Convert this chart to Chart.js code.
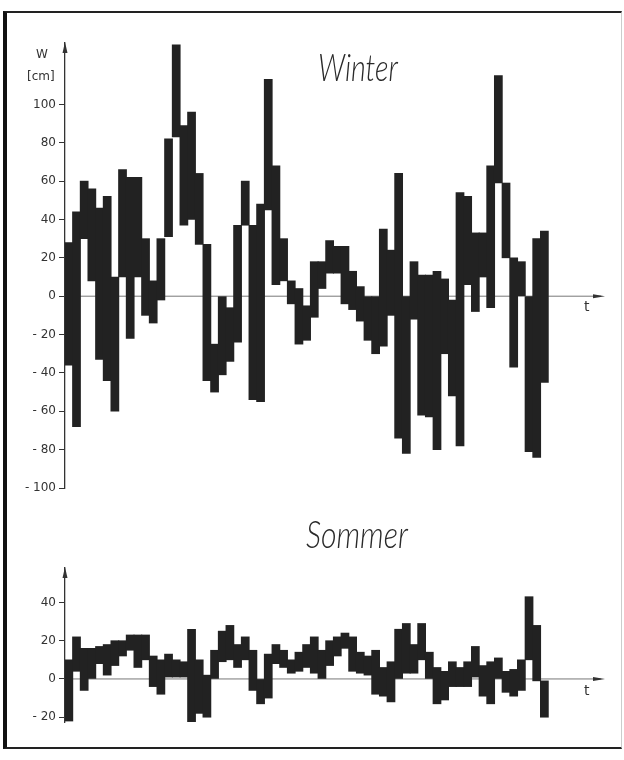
<!DOCTYPE html>
<html lang="de">
<head>
<meta charset="UTF-8">
<title>Winter / Sommer</title>
<script src="https://cdn.jsdelivr.net/npm/chart.js"></script>
<style>
  body { margin: 0; background: #fff; }
  #page { position: relative; width: 624px; height: 760px; overflow: hidden; }
  #frame { position: absolute; left: 3px; top: 11px; width: 614px; height: 734px;
           border-left: 4px solid #111; border-top: 2px solid #222; border-bottom: 2px solid #222;
           border-right: 1px solid #ccc; }
  .lbl { position: absolute; color: #333; font-family: "DejaVu Sans", sans-serif; font-size: 12px; line-height: 1; white-space: nowrap; }
  .title { position: absolute; color: #2a2a2a; font-family: Lato, "Liberation Sans", sans-serif;
           font-style: italic; font-weight: 300; font-size: 38px; line-height: 1; white-space: nowrap;
           transform-origin: 0 0; }
  canvas { position: absolute; left: 0; }
</style>
</head>
<body>
<div id="page">
  <div id="frame"></div>
  <div style="position:absolute;left:0;top:0;width:624px;height:500px"><canvas id="winterChart"></canvas></div>
  <div style="position:absolute;left:0;top:500px;width:624px;height:260px"><canvas id="sommerChart"></canvas></div>
  <div class="title" id="tWinter" data-w="80" style="left:318px;top:47px">Winter</div>
  <div class="title" id="tSommer" data-w="102" style="left:306px;top:514px">Sommer</div>
  <div class="lbl" style="left:36px;top:48px">W</div>
  <div class="lbl" style="left:27px;top:70px">[cm]</div>
  <div class="lbl" style="left:584px;top:299px;font-size:14px">t</div>
  <div class="lbl" style="left:584px;top:683px;font-size:14px">t</div>
</div>

<script>
// time steps (one bar per step)
const steps = Array.from({ length: 63 }, (_, i) => i + 1);

// Winter: range of each bar [low, high] in cm
const winterLow  = [-36, -68, 30, 8, -33, -44, -60, 10, -22, 10, -10, -14, -2, 31, 83, 37,
                    40, 27, -44, -50, -41, -34, -24, 37, -54, -55, 45, 6, 8, -4, -25, -23,
                    -11, 4, 12, 12, -4, -7, -13, -23, -30, -26, -10, -74, -82, -12, -62, -63,
                    -80, -30, -52, -78, 6, -8, 10, -6, 59, 20, -37, 0, -81, -84, -45];
const winterHigh = [28, 44, 60, 56, 46, 52, 10, 66, 62, 62, 30, 8, 30, 82, 131, 89,
                    96, 64, 27, -25, 0, -6, 37, 60, 37, 48, 113, 68, 30, 8, 4, -5,
                    18, 18, 29, 26, 26, 13, 5, 0, 0, 35, 24, 64, 0, 18, 11, 11,
                    13, 9, -2, 54, 52, 33, 33, 68, 115, 59, 20, 18, 0, 30, 34];
const winterTicks = [100, 80, 60, 40, 20, 0, -20, -40, -60, -80, -100];

// Sommer
const sommerLow  = [-22, 4, -6, 0, 8, 2, 7, 12, 15, 6, 10, -4, -8, 1, 1, 1,
                    -24, -18, -20, 0, 9, 10, 6, 10, -6, -13, -10, 8, 6, 3, 4, 6,
                    3, 0, 7, 12, 16, 4, 3, 2, -8, -9, -12, 0, 3, 3, 10, 0,
                    -13, -11, -4, -4, -4, 1, -9, -13, 0, -7, -9, -6, 10, -1, -20];
const sommerHigh = [10, 22, 16, 16, 17, 18, 20, 20, 23, 23, 23, 12, 10, 13, 10, 9,
                    26, 10, 2, 15, 25, 28, 18, 22, 15, 0, 13, 18, 15, 10, 14, 18,
                    22, 15, 20, 22, 24, 22, 14, 12, 15, 6, 9, 26, 29, 18, 29, 14,
                    6, 4, 9, 6, 9, 17, 7, 9, 11, 4, 5, 10, 43, 28, -1];
const sommerTicks = [40, 20, 0, -20];

const ink = '#222';
const stepPx = 7.67;

// squeeze the hand-lettered titles to the width they have in the drawing
document.querySelectorAll('.title').forEach(el => {
  el.style.transform = 'scaleX(' + (el.dataset.w / el.offsetWidth) + ')';
});

// zero line with arrow, arrow on the value axis
const axisArrows = {
  id: 'axisArrows',
  beforeDatasetsDraw(chart) {
    const { ctx, chartArea } = chart;
    const y0 = chart.scales.y.getPixelForValue(0);
    ctx.save();
    ctx.strokeStyle = '#777';
    ctx.lineWidth = 1;
    ctx.beginPath();
    ctx.moveTo(chartArea.left, y0);
    ctx.lineTo(chartArea.right - 4, y0);
    ctx.stroke();
    ctx.restore();
  },
  afterDraw(chart) {
    const { ctx, chartArea } = chart;
    const y0 = chart.scales.y.getPixelForValue(0);
    ctx.save();
    ctx.fillStyle = '#333';
    ctx.beginPath();
    ctx.moveTo(chartArea.right, y0);
    ctx.lineTo(chartArea.right - 12, y0 - 2);
    ctx.lineTo(chartArea.right - 12, y0 + 2);
    ctx.closePath();
    ctx.fill();
    ctx.beginPath();
    ctx.moveTo(chartArea.left, chartArea.top - 1);
    ctx.lineTo(chartArea.left - 2.5, chartArea.top + 10);
    ctx.lineTo(chartArea.left + 2.5, chartArea.top + 10);
    ctx.closePath();
    ctx.fill();
    ctx.restore();
  }
};

function makePanel(id, low, high, tickValues, yMin, yMax, padding) {
  const width = 624 - 65 - padding.right;
  new Chart(document.getElementById(id), {
    type: 'bar',
    data: {
      labels: steps,
      datasets: [{
        data: low.map((v, i) => [v, high[i]]),
        backgroundColor: ink,
        borderWidth: 0,
        barPercentage: 1,
        categoryPercentage: 1,
        barThickness: stepPx + 0.4
      }]
    },
    options: {
      responsive: true,
      maintainAspectRatio: false,
      animation: false,
      layout: { padding: { left: 0, top: padding.top, right: padding.right, bottom: padding.bottom } },
      plugins: { legend: { display: false }, tooltip: { enabled: false } },
      scales: {
        x: {
          type: 'linear',
          display: false,
          offset: false,
          min: 0.5,
          max: 0.5 + width / stepPx
        },
        y: {
          min: yMin,
          max: yMax,
          afterBuildTicks: s => { s.ticks = tickValues.map(v => ({ value: v })); },
          afterFit: s => { s.width = 65; },
          border: { display: true, color: '#333', width: 1.3 },
          grid: { drawOnChartArea: false, drawTicks: true, tickLength: 6, color: '#333', lineWidth: 1 },
          ticks: {
            color: '#333',
            padding: 3,
            font: { family: 'DejaVu Sans', size: 12 },
            callback: v => v < 0 ? '- ' + Math.abs(v) : String(v)
          }
        }
      }
    },
    plugins: [axisArrows]
  });
}

makePanel('winterChart', winterLow, winterHigh, winterTicks, -100, 132, { top: 43, right: 19, bottom: 12 });
makePanel('sommerChart', sommerLow, sommerHigh, sommerTicks, -22.5, 58, { top: 68, right: 19, bottom: 38 });
</script>
</body>
</html>
